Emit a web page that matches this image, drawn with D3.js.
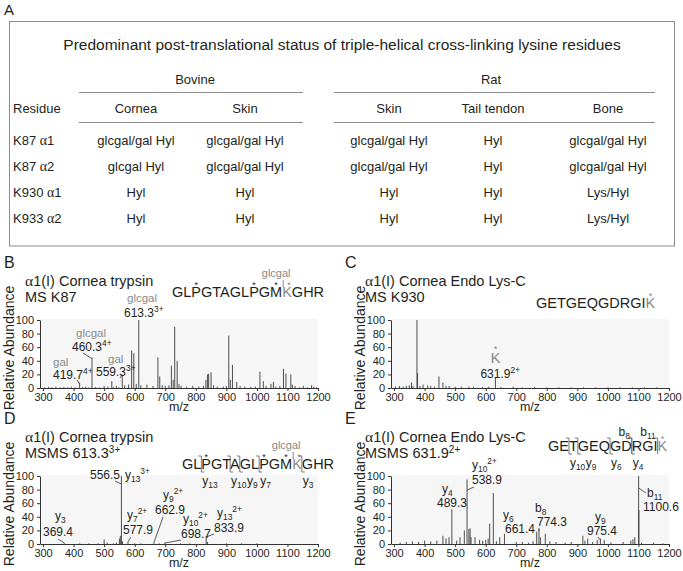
<!DOCTYPE html>
<html><head><meta charset="utf-8">
<script src="https://cdn.jsdelivr.net/npm/d3@7"></script>
<style>body{margin:0;background:#fff}svg{display:block}</style>
</head><body>
<svg id="c" width="683" height="571"></svg>
<script>
// ---------------- DATA ----------------
const tableTitle = "Predominant post-translational status of triple-helical cross-linking lysine residues";
const speciesGroups = ["Bovine", "Rat"];
const tissues = ["Cornea", "Skin", "Skin", "Tail tendon", "Bone"];
const residueNames = ["K87", "K87", "K930", "K933"];
const chainNums = ["1", "2", "1", "2"];
const tableRows = [
  ["glcgal/gal Hyl", "glcgal/gal Hyl", "glcgal/gal Hyl", "Hyl", "glcgal/gal Hyl"],
  ["glcgal Hyl", "glcgal/gal Hyl", "glcgal/gal Hyl", "Hyl", "glcgal/gal Hyl"],
  ["Hyl", "Hyl", "Hyl", "Hyl", "Lys/Hyl"],
  ["Hyl", "Hyl", "Hyl", "Hyl", "Lys/Hyl"]
];
const mzTicks = [300, 400, 500, 600, 700, 800, 900, 1000, 1100, 1200];
const abTicks = [0, 20, 40, 60, 80, 100];
const mzDomain = [290, 1200];

const titlesB = ["\u03b11(I) Cornea trypsin", "MS K87"];
const titlesC = ["\u03b11(I) Cornea Endo Lys-C", "MS K930"];
const titlesD = ["\u03b11(I) Cornea trypsin", "MSMS 613.3"];
const titlesE = ["\u03b11(I) Cornea Endo Lys-C", "MSMS 631.9"];
const seqK87 = "GLPGTAGLPGMKGHR";
const seqK930 = "GETGEQGDRGIK";

// spectrum B: MS K87 (m/z, relative abundance)
const peaksB = [[305,1],[318,1.5],[330,1],[342,2],[356,1],[368,1.5],[380,1],[392,2],[405,1],[419.7,8],[430,1.5],[440,2],[450,1],
  [460.3,45],[472,1.5],[485,1],[500,3],[512,2],[525,10],[530,1.5],[540,3],[548,1],[559.3,20],[567,4],[580,5],[590,55],[597,51],
  [605,6],[613.3,100],[620,4],[640,5],[660,3],[676,45],[682,17],[690,4],[700,3],[712,4],[720,33],[726,12],[731,90],[739,40],
  [745,6],[752,3],[770,2],[790,3],[810,2],[825,3],[833,12],[838,20],[842,21],[850,23],[858,4],[870,2],[890,2],[900,3],[908,77],
  [913,12],[920,34],[934,9],[945,3],[960,2],[980,2],[995,2],[1010,24],[1021,10],[1030,3],[1046,6],[1054,9],[1062,2],[1075,3],
  [1087,28],[1095,21],[1111,20],[1116,5],[1125,3],[1140,1],[1152,3],[1165,1],[1179,4],[1186,2],[1195,1]];
// spectrum C: MS K930
const peaksC = [[305,2],[318,3],[330,2],[340,3],[350,4],[357,8],[362,3],[375,100],[377,22],[385,3],[395,5],[410,4],[420,3],
  [432,2],[447,17],[460,8],[470,3],[480,3],[500,2],[520,2],[545,2],[560,2],[590,1.5],[610,2],[631.9,15],[650,1.5],[690,2],
  [720,1],[760,1.5],[800,1],[840,1],[880,1],[920,1],[960,1],[1000,1],[1040,1],[1080,1],[1120,1],[1160,1]];
// spectrum D: MSMS 613.3
const peaksD = [[369.4,1.5],[420,1],[450,1],[480,1],[500,7],[510,2],[530,1],[540,2],[550,8],[553,12],[556.5,100],[560,4],
  [577.9,3],[600,1],[620,1],[662.9,2],[680,1],[698.7,2],[750,1],[780,1],[833.9,12],[838,3],[900,1],[950,1],[1000,1]];
// spectrum E: MSMS 631.9
const peaksE = [[320,2],[340,3],[360,4],[380,3],[400,5],[420,4],[440,5],[460,12],[470,8],[480,10],[489.3,51],[505,5],[516,10],
  [530,20],[538.9,95],[545,22],[549,23],[552,10],[565,10],[580,6],[590,5],[600,6],[608,8],[613,30],[625,75],[635,4],[646,10],
  [661.4,15],[700,3],[720,3],[740,2],[755,4],[767,18],[774.3,22],[779,10],[795,15],[810,4],[830,3],[860,2],[880,3],[918,12],
  [925,5],[934,8],[950,3],[965,6],[975.4,8],[988,6],[1010,2],[1050,3],[1075,5],[1082,7],[1088,10],[1100.6,100],[1101.5,50],
  [1110,2],[1150,2],[1180,1]];

// annotations: [m/z, abundance, tag, label parts]
const annB = [
  [419.7, 8, "gal", [["419.7"],["4+","sup"]]],
  [460.3, 45, "glcgal", [["460.3"],["4+","sup"]]],
  [559.3, 20, "gal", [["559.3"],["3+","sup"]]],
  [613.3, 100, "glcgal", [["613.3"],["3+","sup"]]]
];
const annC = [[631.9, 15, "K", [["631.9"],["2+","sup"]]]];
const annD = [
  [556.5, 100, [["y"],["13","sub"],["3+","sup"]], [["556.5"]]],
  [369.4, 1.5, [["y"],["3","sub"]], [["369.4"]]],
  [577.9, 3, [["y"],["7","sub"],["2+","sup"]], [["577.9"]]],
  [662.9, 2, [["y"],["9","sub"],["2+","sup"]], [["662.9"]]],
  [698.7, 2, [["y"],["10","sub"],["2+","sup"]], [["698.7"]]],
  [833.9, 12, [["y"],["13","sub"],["2+","sup"]], [["833.9"]]]
];
const annE = [
  [538.9, 95, [["y"],["10","sub"],["2+","sup"]], [["538.9"]]],
  [489.3, 51, [["y"],["4","sub"]], [["489.3"]]],
  [661.4, 15, [["y"],["6","sub"]], [["661.4"]]],
  [774.3, 22, [["b"],["8","sub"]], [["774.3"]]],
  [975.4, 8, [["y"],["9","sub"]], [["975.4"]]],
  [1100.6, 100, [["b"],["11","sub"]], [["1100.6"]]]
];
// fragment ions on sequences: [residues before cut, ion type, number]
const fragD = [[2,"y","13"],[5,"y","10"],[6,"y","9"],[8,"y","7"],[12,"y","3"]];
const fragE = [[2,"y","10"],[3,"y","9"],[6,"y","6"],[8,"y","4"],[8,"b","8"],[11,"b","11"]];
const starsK87 = [2, 8, 10, 11];
const starsK930 = [11];

// ---------------- DRAW ----------------
const FONT = "'Liberation Sans', Arial, Helvetica, sans-serif";
const SERIF = "'Liberation Serif', 'Times New Roman', serif";
const INK = "#231f20", GRAY = "#8a8a8a", LINE = "#8c8c8c";
const svg = d3.select("#c").attr("font-family", FONT);

function rich(parent, x, y, parts, o = {}) {
  const size = o.size || 11.5;
  const t = parent.append("text").attr("x", x).attr("y", y).attr("font-size", size)
    .attr("fill", o.fill || INK).attr("text-anchor", o.anchor || "start");
  let shift = 0;
  parts.forEach(p => {
    const s = p[0], m = p[1] || "";
    const target = m === "sup" ? -0.42 * size : m === "sub" ? 0.28 * size : 0;
    const ts = t.append("tspan").text(s).attr("dy", target - shift);
    if (m) ts.attr("font-size", size * 0.7);
    shift = target;
  });
  return t;
}

// ---- Panel A table ----
const A = svg.append("g");
A.append("text").attr("x", 4).attr("y", 15).attr("font-size", 15).attr("fill", INK).text("A");
A.append("rect").attr("x", 9.5).attr("y", 21.5).attr("width", 665).attr("height", 224.5)
  .attr("fill", "none").attr("stroke", LINE).attr("stroke-width", 1);
A.append("text").attr("x", 342).attr("y", 49.5).attr("text-anchor", "middle").attr("font-size", 15.5)
  .attr("fill", INK).text(tableTitle);
const colX = [136, 245, 389, 493, 608];
const groupX = [195, 491];
const groupLines = [[79, 303], [334, 655]];
speciesGroups.forEach((s, i) => {
  A.append("text").attr("x", groupX[i]).attr("y", 84).attr("text-anchor", "middle").attr("font-size", 13).attr("fill", INK).text(s);
  [92.5, 122.5].forEach(yy => A.append("line").attr("x1", groupLines[i][0]).attr("x2", groupLines[i][1])
    .attr("y1", yy).attr("y2", yy).attr("stroke", LINE).attr("stroke-width", 1));
});
A.append("text").attr("x", 13).attr("y", 113).attr("font-size", 13).attr("fill", INK).text("Residue");
tissues.forEach((t, i) => A.append("text").attr("x", colX[i]).attr("y", 113).attr("text-anchor", "middle")
  .attr("font-size", 13).attr("fill", INK).text(t));
const rowY = [145, 171, 197, 223];
tableRows.forEach((row, r) => {
  const rt = A.append("text").attr("x", 13).attr("y", rowY[r]).attr("font-size", 13).attr("fill", INK);
  rt.append("tspan").text(residueNames[r] + " ");
  rt.append("tspan").attr("font-family", SERIF).attr("font-size", 14).text("\u03b1");
  rt.append("tspan").text(chainNums[r]);
  row.forEach((v, c) => A.append("text").attr("x", colX[c]).attr("y", rowY[r]).attr("text-anchor", "middle")
    .attr("font-size", 13).attr("fill", INK).text(v));
});

// ---- spectrum panels ----
function titleText(g, x, y, s, size) {
  const t = g.append("text").attr("x", x).attr("y", y).attr("font-size", size).attr("fill", INK);
  if (s[0] === "\u03b1") {
    t.append("tspan").attr("font-family", SERIF).attr("font-size", size + 1).text("\u03b1");
    t.append("tspan").text(s.slice(1));
  } else t.text(s);
  return t;
}

function panel(o) {
  const g = svg.append("g");
  const x = d3.scaleLinear().domain(mzDomain).range(o.xr);
  const y = d3.scaleLinear().domain([0, 100]).range(o.yr);
  g.append("rect").attr("x", o.xr[0]).attr("y", y(100) - 1).attr("width", o.xr[1] - o.xr[0])
    .attr("height", y(0) - y(100) + 1).attr("fill", "#f6f6f6");
  g.append("g").selectAll("line").data(o.peaks).join("line")
    .attr("x1", d => x(d[0])).attr("x2", d => x(d[0]))
    .attr("y1", y(0)).attr("y2", d => y(d[1]))
    .attr("stroke", "#3a3a3a").attr("stroke-width", 0.9);
  const xa = g.append("g").attr("transform", `translate(0,${y(0)})`)
    .call(d3.axisBottom(x).tickValues(mzTicks).tickSize(3).tickSizeOuter(0).tickPadding(2).tickFormat(d3.format("d")));
  const ya = g.append("g").attr("transform", `translate(${o.xr[0]},0)`)
    .call(d3.axisLeft(y).tickValues(abTicks).tickSize(3).tickSizeOuter(0).tickPadding(3));
  [xa, ya].forEach(a => {
    a.attr("font-family", FONT).attr("font-size", 11);
    a.selectAll("path,line").attr("stroke", "#333");
    a.selectAll("text").attr("fill", INK);
  });
  g.append("text").attr("x", (o.xr[0] + o.xr[1]) / 2).attr("y", y(0) + 23).attr("text-anchor", "middle")
    .attr("font-size", 12.5).attr("fill", INK).text("m/z");
  g.append("text").attr("transform", `translate(${o.xr[0] - 26},${(y(0) + y(100)) / 2 - 6}) rotate(-90)`)
    .attr("text-anchor", "middle").attr("font-size", 14).attr("fill", INK).text("Relative Abundance");
  g.append("text").attr("x", o.xr[0] + o.letterDx).attr("y", y(100) - 52).attr("font-size", 16).attr("fill", INK).text(o.letter);
  titleText(g, o.xr[0] + o.titleDx, y(100) - 34, o.titles[0], 14.5);
  const t2 = titleText(g, o.xr[0] + o.titleDx, y(100) - 18, o.titles[1], 14.5);
  if (o.titleSup) t2.append("tspan").attr("dy", -5).attr("font-size", 10).text(o.titleSup);
  return { g, x, y };
}

function seqDraw(g, x0, base, seq, o) {
  const fs = o.size || 14.5;
  const grayIdx = seq.length - 1 - (o.grayFromEnd || 0);
  const t = g.append("text").attr("x", x0).attr("y", base).attr("font-size", fs).attr("fill", INK);
  seq.split("").forEach((ch, i) => t.append("tspan").text(ch).attr("fill", i === grayIdx ? GRAY : INK));
  const n = t.node();
  const L = i => n.getStartPositionOfChar(i).x;
  const R = i => n.getEndPositionOfChar(i).x;
  const C = i => (L(i) + R(i)) / 2;
  (o.stars || []).forEach(i => {
    g.append("text").attr("x", C(i) + (o.tagIdx === i ? 2 : 0)).attr("y", base - 9.5).attr("text-anchor", "middle")
      .attr("font-size", 9).attr("fill", i === grayIdx ? GRAY : INK).text("*");
  });
  if (o.tag) {
    const i = o.tagIdx;
    g.append("text").attr("x", L(i) - 6).attr("y", base - 20).attr("text-anchor", "middle")
      .attr("font-size", 11).attr("fill", GRAY).text(o.tag);
    g.append("line").attr("x1", L(i) + 1).attr("x2", L(i) + 1).attr("y1", base - 17).attr("y2", base - 10)
      .attr("stroke", GRAY).attr("stroke-width", 1);
  }
  let lastEnd = -1e9;
  (o.frags || []).forEach(f => {
    const cx = (R(f[0] - 1) + L(f[0])) / 2;
    const top = base - 13, bot = base + 3;
    const path = f[1] === "y"
      ? `M${cx - 3},${top} H${cx} V${bot} H${cx + 3}`
      : `M${cx - 3},${top} H${cx} V${bot}`;
    g.append("path").attr("d", path).attr("fill", "none").attr("stroke", "#6a6a6a").attr("stroke-width", 0.9);
    if (f[1] === "y") {
      const lx = Math.max(cx + 1, lastEnd + 0.5);
      const lt = rich(g, lx, base + 16, [[f[1]], [f[2], "sub"]], { size: 12 });
      lastEnd = lx + lt.node().getComputedTextLength();
    } else rich(g, cx - 2, base - 15, [[f[1]], [f[2], "sub"]], { size: 12, anchor: "end" });
  });
}

function leader(g, x1, y1, x2, y2) {
  g.append("line").attr("x1", x1).attr("y1", y1).attr("x2", x2).attr("y2", y2).attr("stroke", "#333").attr("stroke-width", 0.8);
}

const leftR = [40, 318], rightR = [391, 669];

// B
const pB = panel({ xr: leftR, yr: [388, 320], peaks: peaksB, letter: "B", letterDx: -36, titleDx: -15, titles: titlesB });
seqDraw(pB.g, 172, 297, seqK87, { grayFromEnd: 3, stars: starsK87, tag: "glcgal", tagIdx: 11 });
const layB = [[53, 366, 53, 379, 77, 380], [76, 337, 72, 351, 83, 353], [108, 363, 96, 376, 120, 378], [127, 302, 124, 317]];
annB.forEach((a, i) => {
  const l = layB[i];
  pB.g.append("text").attr("x", l[0]).attr("y", l[1]).attr("font-size", 11.5).attr("fill", GRAY).text(a[2]);
  rich(pB.g, l[2], l[3], a[3], { size: 12 });
  if (l[4] !== undefined) leader(pB.g, l[4], l[5], pB.x(a[0]) - 0.5, pB.y(a[1]) + 1);
});

// C
const pC = panel({ xr: rightR, yr: [388, 320], peaks: peaksC, letter: "C", letterDx: -46, titleDx: -26, titles: titlesC });
seqDraw(pC.g, 536, 308, seqK930, { grayFromEnd: 0, stars: starsK930 });
annC.forEach(a => {
  const cx = pC.x(a[0]);
  pC.g.append("text").attr("x", cx).attr("y", 363).attr("text-anchor", "middle").attr("font-size", 15).attr("fill", GRAY).text(a[2]);
  pC.g.append("text").attr("x", cx).attr("y", 352).attr("text-anchor", "middle").attr("font-size", 9).attr("fill", GRAY).text("*");
  rich(pC.g, cx - 15, 378, a[3], { size: 12 });
});

// D
const pD = panel({ xr: leftR, yr: [544, 476], peaks: peaksD, letter: "D", letterDx: -36, titleDx: -15, titles: titlesD, titleSup: "3+" });
seqDraw(pD.g, 182, 469, seqK87, { grayFromEnd: 3, stars: starsK87, tag: "glcgal", tagIdx: 11, frags: fragD });
const layD = [[125, 479, 90, 479, 115, 481], [55, 520, 43, 536, 58, 539], [127, 519, 123, 534, 131, 537],
  [163, 499, 155, 514, 163, 517], [183, 523, 181, 538, 181, 540], [217, 517, 214, 532, 214, 534]];
annD.forEach((a, i) => {
  const l = layD[i];
  rich(pD.g, l[0], l[1], a[2], { size: 12 });
  rich(pD.g, l[2], l[3], a[3], { size: 12 });
  leader(pD.g, l[4], l[5], pD.x(a[0]), Math.max(pD.y(a[1]), l[5] + 3));
});

// E
const pE = panel({ xr: rightR, yr: [544, 476], peaks: peaksE, letter: "E", letterDx: -46, titleDx: -26, titles: titlesE, titleSup: "2+" });
seqDraw(pE.g, 548, 451, seqK930, { grayFromEnd: 0, stars: starsK930, frags: fragE });
const layE = [[472, 469, 472, 484, 474, 487], [442, 493, 437, 507], [503, 519, 505, 533], [535, 512, 537, 526, 539, 528],
  [595, 521, 587, 535, 598, 537], [647, 497, 643, 511, 646, 493]];
annE.forEach((a, i) => {
  const l = layE[i];
  rich(pE.g, l[0], l[1], a[2], { size: 12 });
  rich(pE.g, l[2], l[3], a[3], { size: 12 });
  if (l[4] !== undefined) leader(pE.g, l[4], l[5], pE.x(a[0]), i === 5 ? l[5] - 5 : Math.max(pE.y(a[1]), l[5] + 3));
});
</script>
</body></html>
